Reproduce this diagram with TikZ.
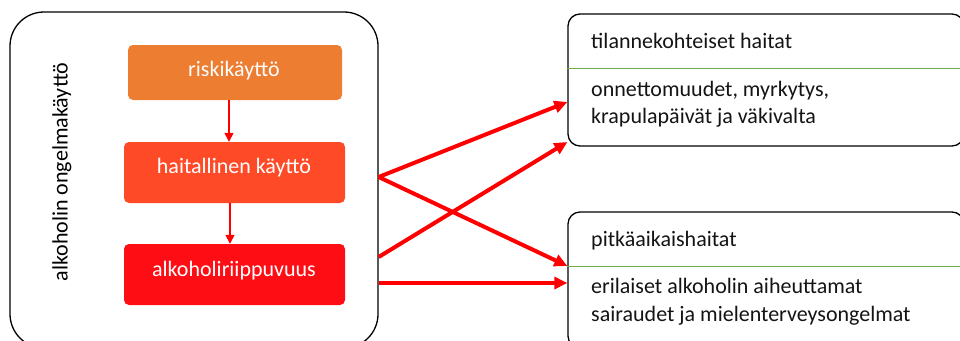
\documentclass[tikz,border=0pt]{standalone}
\usepackage{fontspec}
\setmainfont{Carlito}
\usetikzlibrary{arrows.meta}
\definecolor{riskc}{HTML}{ED7D31}
\definecolor{haitc}{HTML}{FF4A28}
\definecolor{riipc}{HTML}{FF0D14}
\definecolor{divc}{HTML}{70AD47}
\definecolor{txtc}{HTML}{141414}
\tikzset{
  stage/.style={rounded corners=5pt, inner sep=0pt},
  stagetxt/.style={anchor=base, inner sep=0pt, text=white, font=\fontsize{22}{26}\selectfont},
  frame/.style={draw=black, line width=1.3pt, inner sep=0pt},
  harmtxt/.style={anchor=base west, inner sep=0pt, text=txtc, font=\fontsize{22}{26}\selectfont},
  thin arrow/.style={draw=red, line width=1.4pt, -{Triangle[length=9pt,width=9pt]}},
  thick arrow/.style={draw=red, line width=4pt, -{Triangle[length=13pt,width=12pt]}},
}
\begin{document}
\begin{tikzpicture}[x=1pt,y=-1pt]
\useasboundingbox (0,0) rectangle (960,340);
\begin{scope}
\clip (0,0) rectangle (960,340);
% outer frame of the problem-use stages
\node[frame, rounded corners=34pt, minimum width=368pt, minimum height=336pt] (outer) at (194,180) {};
% harm boxes on the right
\node[frame, rounded corners=12pt, minimum width=396pt, minimum height=132pt] (acute) at (766,80) {};
\node[frame, rounded corners=12pt, minimum width=396pt, minimum height=136pt] (chronic) at (766,280) {};
\end{scope}
\draw[divc, line width=1pt] (acute.west |- 0,68) -- (960,68);
\draw[divc, line width=1pt] (chronic.west |- 0,266) -- (960,266);

% vertical label
\node[rotate=90, inner sep=0pt, font=\fontsize{22}{26}\selectfont] (lbl) at (62,172) {alkoholin ongelmakäyttö};

% stages
\node[stage, fill=riskc, minimum width=214pt, minimum height=55pt] (risk) at (235,72.5) {};
\node[stage, fill=haitc, minimum width=221pt, minimum height=61pt] (hait) at (234.5,172.5) {};
\node[stage, fill=riipc, minimum width=221pt, minimum height=61pt] (riip) at (234.5,274.5) {};
\node[stagetxt] (t1) at (234,76) {riskikäyttö};
\node[stagetxt] (t2) at (234,173) {haitallinen käyttö};
\node[stagetxt] (t3) at (234,276) {alkoholiriippuvuus};

\draw[thin arrow] (risk.south -| 229,0) -- (hait.north -| 229,0);
\draw[thin arrow] (hait.south -| 230,0) -- (riip.north -| 230,0);

% harm texts
\node[harmtxt] (h1) at (591,48) {tilannekohteiset haitat};
\node[harmtxt] (h2) at (591,96) {onnettomuudet, myrkytys,};
\node[harmtxt] (h3) at (591,123) {krapulapäivät ja väkivalta};
\node[harmtxt] (h4) at (591,246) {pitkäaikaishaitat};
\node[harmtxt] (h5) at (591,293) {erilaiset alkoholin aiheuttamat};
\node[harmtxt] (h6) at (591,321) {sairaudet ja mielenterveysongelmat};

% connector ends on the frames
\coordinate (o1) at (outer.east |- 0,177);
\coordinate (o2) at (outer.east |- 0,257);
\coordinate (o3) at (outer.east |- 0,283);
\coordinate (a1) at (acute.west |- 0,102);
\coordinate (a2) at (acute.west |- 0,142);
\coordinate (c1) at (chronic.west |- 0,266);
\coordinate (c2) at (chronic.west |- 0,283);

\draw[thick arrow] (o1) -- (a1);
\draw[thick arrow] (o1) -- (c1);
\draw[thick arrow] (o2) -- (a2);
\draw[thick arrow] (o3) -- (c2);
\end{tikzpicture}
\end{document}
